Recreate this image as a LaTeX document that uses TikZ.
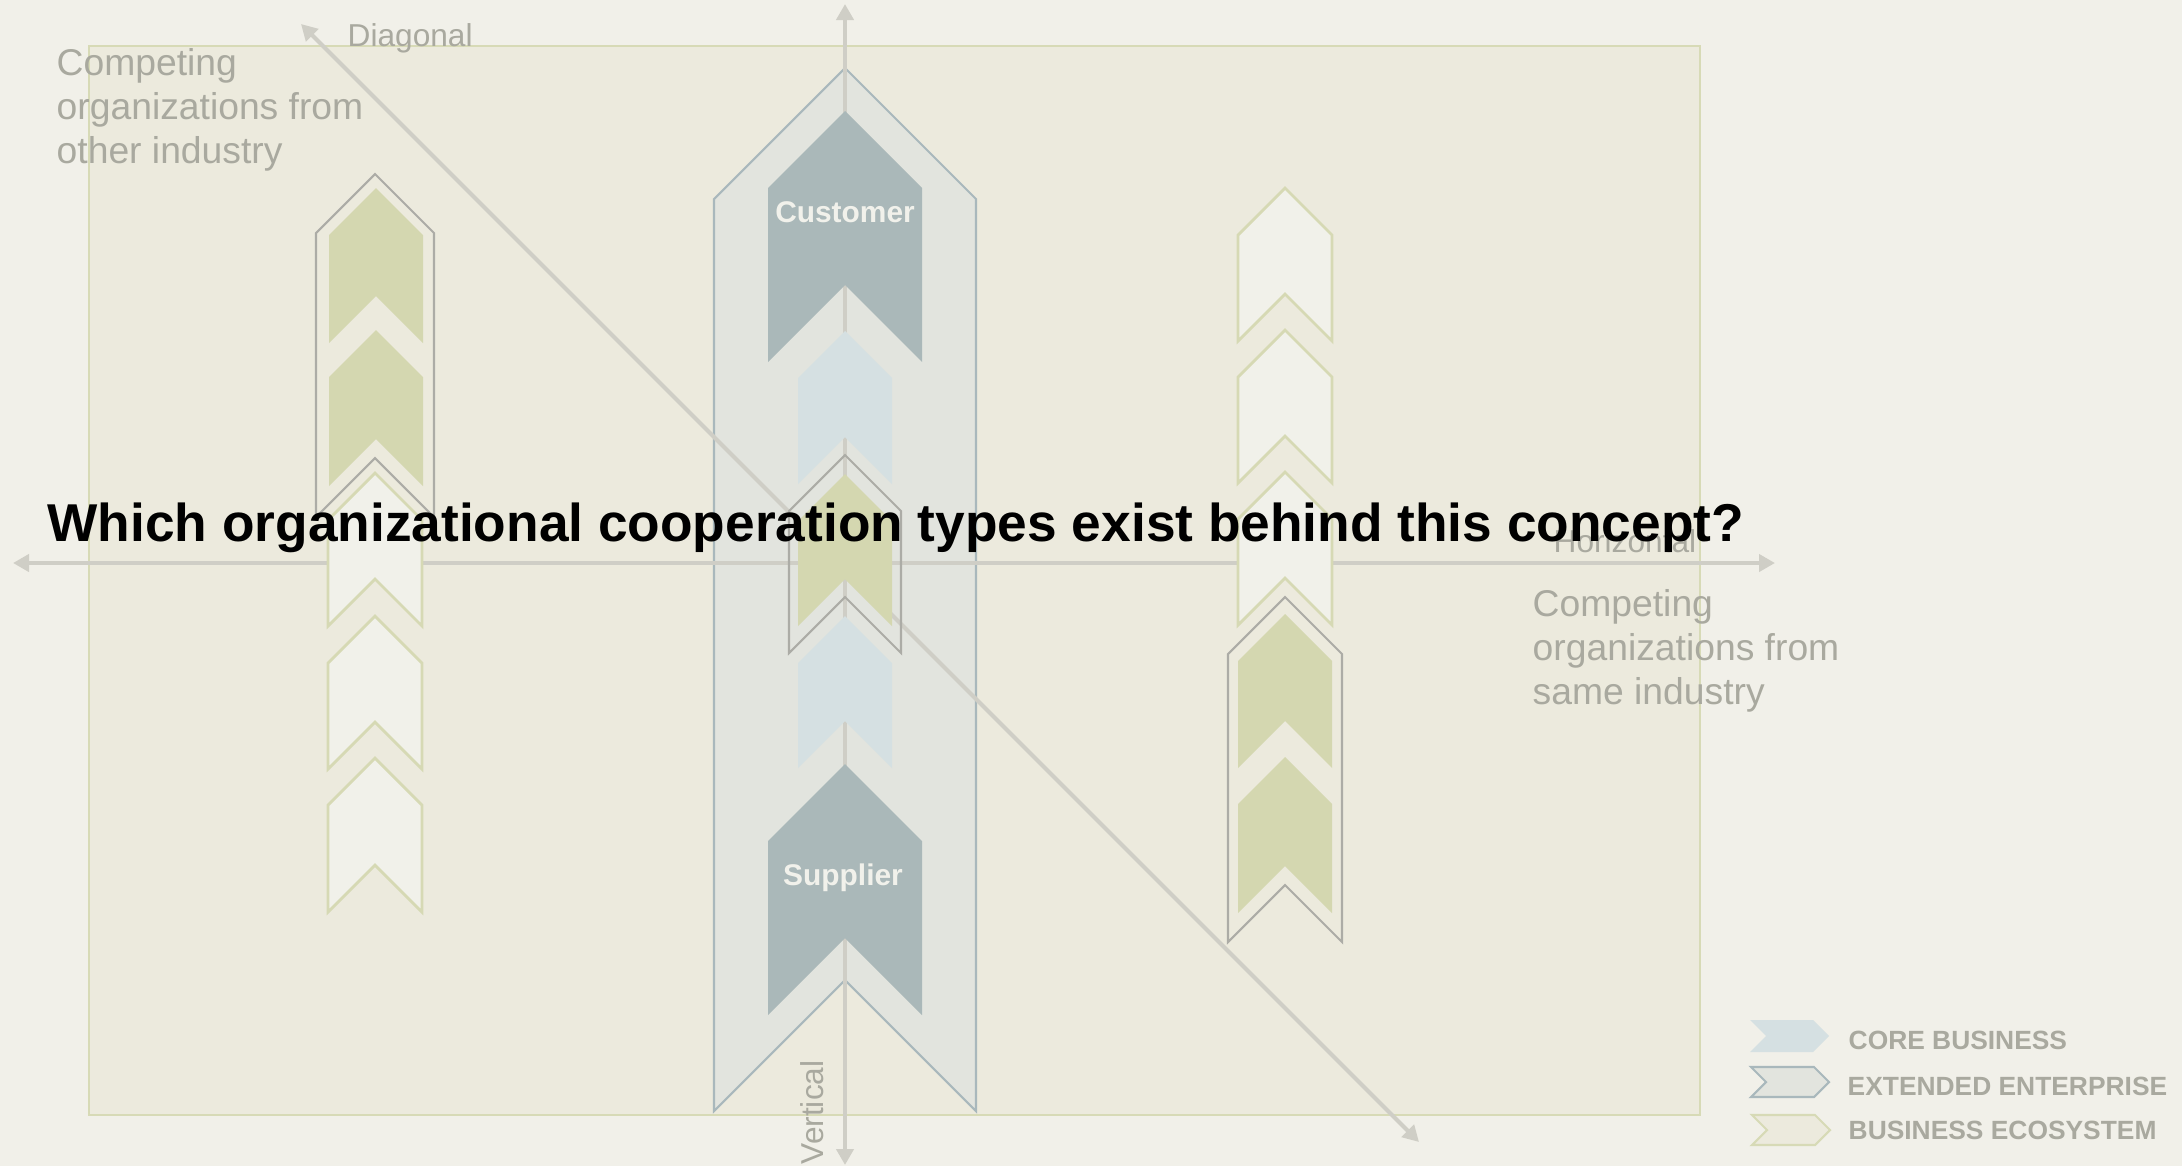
\documentclass[tikz,border=0pt]{standalone}
\usepackage{fontspec}
\setmainfont{Liberation Sans}
\usetikzlibrary{arrows.meta}

\definecolor{pagebg}{HTML}{F1F0E9}
\definecolor{fieldbg}{HTML}{ECEADD}
\definecolor{fieldline}{HTML}{D7DAB6}
\definecolor{extfill}{HTML}{E2E4DE}
\definecolor{extline}{HTML}{A9B8BC}
\definecolor{corefill}{HTML}{D5E0E2}
\definecolor{partfill}{HTML}{AAB8B9}
\definecolor{ecofill}{HTML}{D4D7B0}
\definecolor{ecopale}{HTML}{F1F1EA}
\definecolor{ecoline}{HTML}{D6D9B4}
\definecolor{boxline}{HTML}{ACACA6}
\definecolor{axisgray}{HTML}{CFCEC6}
\definecolor{labelgray}{HTML}{A9A99F}
\definecolor{tagwhite}{HTML}{F1F1EB}

\tikzset{
  field/.style={fill=fieldbg, draw=fieldline, line width=0.6pt},
  extended/.style={fill=extfill, draw=extline, line width=0.6pt},
  core/.style={fill=corefill},
  partner/.style={fill=partfill},
  eco/.style={fill=ecofill},
  ecoempty/.style={fill=ecopale, draw=ecoline, line width=0.8pt},
  ecobox/.style={draw=boxline, line width=0.6pt},
  axis/.style={draw=axisgray, line width=1.15pt,
    {Triangle[length=0.16cm,width=0.17cm]}-{Triangle[length=0.16cm,width=0.17cm]}},
  axislabel/.style={text=labelgray, font=\fontsize{9}{11}\selectfont, inner sep=0},
  sidelabel/.style={text=labelgray, font=\fontsize{10.6}{12.5}\selectfont,
    align=left, inner sep=0},
  tag/.style={text=tagwhite, font=\fontsize{8.5}{10}\selectfont\bfseries, inner sep=0},
  legend/.style={text=labelgray, font=\fontsize{7.5}{9}\selectfont\bfseries, inner sep=0},
  question/.style={text=black, font=\fontsize{15.15}{18}\selectfont\bfseries, inner sep=0}
}

% arrow pointing up: style, centre x, half width, tip y, bottom y
\newcommand{\upchev}[5]{%
  \path[#1] (#2,#4) -- ({#2+#3},{#4+#3}) -- ({#2+#3},#5) -- (#2,{#5-#3})
    -- ({#2-#3},#5) -- ({#2-#3},{#4+#3}) -- cycle;}
% arrow pointing right: style, left x, right x, centre y, half height
\newcommand{\rightchev}[5]{%
  \path[#1] (#2,{#4-#5}) -- ({#3-#5},{#4-#5}) -- (#3,#4) -- ({#3-#5},{#4+#5})
    -- (#2,{#4+#5}) -- ({#2+#5},#4) -- cycle;}

\begin{document}
\begin{tikzpicture}[x=0.01cm,y=-0.01cm]
\useasboundingbox (0,0) rectangle (2182,1166);
\fill[pagebg] (0,0) rectangle (2182,1166);
\draw[field] (89,46) rectangle (1700,1115);

% extended enterprise
\upchev{extended}{845}{131}{68}{1111}

% axes
\coordinate (vtop) at (845,4);
\coordinate (vbot) at (845,1165);
\coordinate (hleft) at (13,563);
\coordinate (hright) at (1775,563);
\coordinate (dtop) at (301,24);
\coordinate (dbot) at (1419,1142);
\draw[axis] (vtop) -- (vbot);
\draw[axis] (hleft) -- (hright);
\draw[axis] (dtop) -- (dbot);

% other industry
\upchev{eco}{376}{47}{188}{343}
\upchev{eco}{376}{47}{330}{486}
\upchev{ecobox}{375}{59}{174}{517}
\upchev{ecoempty}{375}{47}{473}{626}
\upchev{ecoempty}{375}{47}{616}{769}
\upchev{ecoempty}{375}{47}{758}{912}

% value chain
\upchev{partner}{845}{77}{111}{362}
\upchev{core}{845}{47}{331}{484}
\upchev{eco}{845}{47}{474}{626}
\upchev{ecobox}{845}{56}{455}{653}
\upchev{core}{845}{47}{616}{768}
\upchev{partner}{845}{77}{764}{1015}

% same industry
\upchev{ecoempty}{1285}{47}{188}{341}
\upchev{ecoempty}{1285}{47}{330}{483}
\upchev{ecoempty}{1285}{47}{472}{625}
\upchev{eco}{1285}{47}{614}{768}
\upchev{eco}{1285}{47}{757}{913}
\upchev{ecobox}{1285}{57}{597}{942}

\node[tag, anchor=base] (customer) at (845,222) {Customer};
\node[tag, anchor=base] (supplier) at (843,885) {Supplier};

\node[axislabel, anchor=base west] (diagonal) at (347,46) {Diagonal};
\node[axislabel, anchor=base west] (horizontal) at (1553,552) {Horizontal};
\node[axislabel, rotate=90, anchor=base west] (vertical) at (823,1165) {Vertical};

\node[sidelabel, anchor=north west] (otherind) at (56,48)
  {Competing\\organizations from\\other industry};
\node[sidelabel, anchor=north west] (sameind) at (1532,589)
  {Competing\\organizations from\\same industry};

% legend
\rightchev{core}{1750}{1829}{1036}{16}
\rightchev{extended}{1751}{1829}{1082}{15}
\rightchev{field}{1752}{1830}{1130}{15}
\node[legend, anchor=base west] (corekey) at (1848,1049) {CORE BUSINESS};
\node[legend, anchor=base west] (extkey) at (1847,1095) {EXTENDED ENTERPRISE};
\node[legend, anchor=base west] (ecokey) at (1848,1139) {BUSINESS ECOSYSTEM};

\node[question, anchor=base west] (title) at (47,541)
  {Which organizational cooperation types exist behind this concept?};
\end{tikzpicture}
\end{document}
